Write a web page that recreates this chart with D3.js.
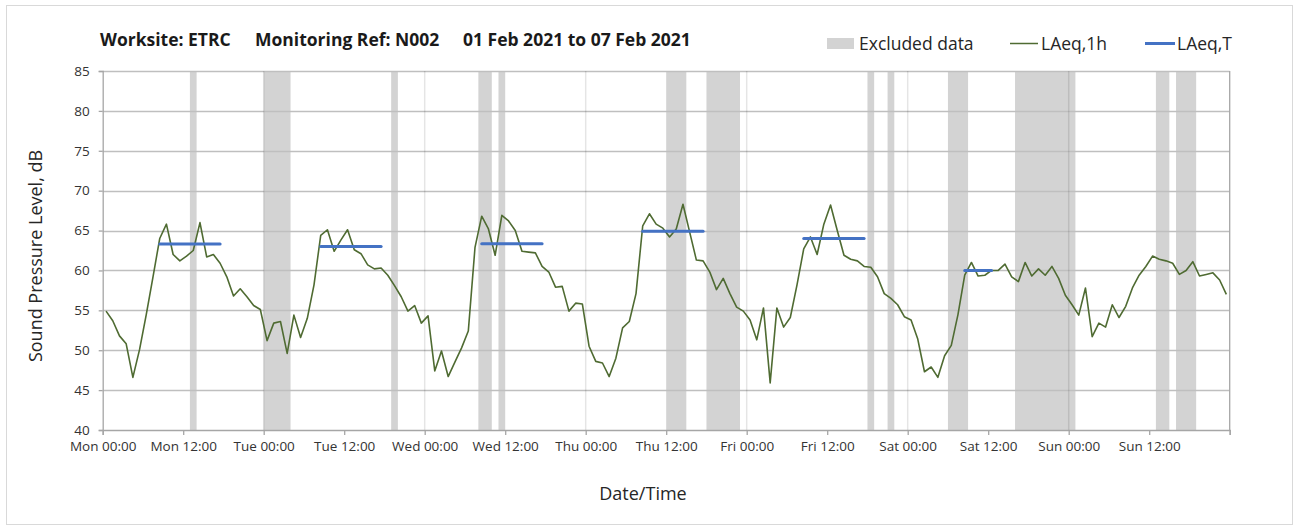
<!DOCTYPE html>
<html>
<head>
<meta charset="utf-8">
<script src="https://cdn.jsdelivr.net/npm/d3@7"></script>
<style>
  html, body { margin: 0; padding: 0; background: #fff; }
  svg { display: block; font-family: "Open Sans", "Noto Sans", sans-serif; }
</style>
</head>
<body>
<svg id="chart" width="1301" height="531"></svg>
<script>
// ---- Data ----
// Hourly LAeq,1h values, hour 0 = Mon 00:00 (plotted at mid-hour)
const laeq1h = [
  54.9, 53.7, 51.8, 50.8, 46.6, 50.1, 54.5, 59.2, 64.0, 65.8,
  62.0, 61.2, 61.8, 62.5, 66.0, 61.7, 62.0, 60.9, 59.2, 56.8,
  57.7, 56.7, 55.6, 55.1, 51.2, 53.4, 53.6, 49.6, 54.4, 51.6,
  54.0, 58.2, 64.4, 65.1, 62.4, 63.8, 65.1, 62.6, 62.1, 60.7,
  60.2, 60.3, 59.4, 58.1, 56.7, 54.9, 55.6, 53.4, 54.3, 47.4,
  49.9, 46.7, 48.5, 50.3, 52.4, 62.9, 66.8, 65.2, 61.9, 66.9,
  66.2, 65.0, 62.4, 62.3, 62.2, 60.5, 59.8, 57.9, 58.0, 54.9,
  55.9, 55.8, 50.5, 48.6, 48.4, 46.7, 49.0, 52.8, 53.6, 57.1,
  65.6, 67.1, 65.8, 65.3, 64.2, 65.2, 68.3, 64.8, 61.3, 61.2,
  59.8, 57.6, 59.0, 57.1, 55.4, 54.9, 53.8, 51.3, 55.3, 45.9,
  55.3, 52.9, 54.1, 58.2, 62.7, 64.2, 62.0, 65.8, 68.2, 65.0,
  61.9, 61.4, 61.2, 60.5, 60.4, 59.2, 57.1, 56.5, 55.7, 54.2,
  53.8, 51.4, 47.3, 47.9, 46.6, 49.3, 50.6, 54.5, 59.4, 61.0,
  59.3, 59.4, 60.0, 60.0, 60.8, 59.2, 58.6, 61.0, 59.3, 60.2,
  59.4, 60.5, 59.0, 56.9, 55.7, 54.4, 57.8, 51.7, 53.4, 52.9,
  55.7, 54.1, 55.5, 57.8, 59.4, 60.5, 61.8, 61.4, 61.2, 60.9,
  59.5, 60.0, 61.1, 59.3, 59.5, 59.7, 58.8, 57.0
];

// LAeq,T periods (first and last hour index, value)
const laeqTStart = [8, 32, 56, 80, 104, 128];
const laeqTEnd   = [17, 41, 65, 89, 113, 132];
const laeqTValue = [63.3, 63.0, 63.35, 64.9, 64.0, 60.0];

// Excluded data periods (hour from, hour to)
const excludedStart = [13, 24, 43, 56, 59, 84, 90, 114, 117, 126, 136, 157, 160];
const excludedEnd   = [14, 28, 44, 58, 60, 87, 95, 115, 118, 129, 145, 159, 163];

// X tick labels every 12 hours
const xTickLabels = ["Mon 00:00", "Mon 12:00", "Tue 00:00", "Tue 12:00", "Wed 00:00",
  "Wed 12:00", "Thu 00:00", "Thu 12:00", "Fri 00:00", "Fri 12:00", "Sat 00:00",
  "Sat 12:00", "Sun 00:00", "Sun 12:00"];
const yTicks = [40, 45, 50, 55, 60, 65, 70, 75, 80, 85];

// ---- Layout ----
const svg = d3.select("#chart");
const W = 1301, H = 531;
const pLeft = 102.7, pRight = 1229.7, pTop = 71, pBottom = 430;

svg.append("rect").attr("x", 0).attr("y", 0).attr("width", W).attr("height", H).attr("fill", "#fff");
svg.append("rect").attr("x", 6.5).attr("y", 5.5).attr("width", 1286).attr("height", 519)
  .attr("fill", "none").attr("stroke", "#d9d9d9").attr("stroke-width", 1);

const x = d3.scaleLinear().domain([0, 168]).range([pLeft, pRight]);
const y = d3.scaleLinear().domain([40, 85]).range([pBottom, pTop]);

// Excluded bands
svg.append("g").selectAll("rect")
  .data(excludedStart.map((s, i) => ({ s, e: excludedEnd[i] })))
  .join("rect")
  .attr("x", d => x(d.s)).attr("width", d => x(d.e) - x(d.s))
  .attr("y", pTop).attr("height", pBottom - pTop)
  .attr("fill", "#d3d3d3");

// Horizontal gridlines
svg.append("g").selectAll("line").data(yTicks.filter(v => v > 40))
  .join("line")
  .attr("x1", pLeft).attr("x2", pRight)
  .attr("y1", d => Math.round(y(d)) + 0.5).attr("y2", d => Math.round(y(d)) + 0.5)
  .attr("stroke", "#bfbfbf").attr("stroke-width", 1.3);

// Vertical day gridlines
svg.append("g").selectAll("line").data(d3.range(24, 168, 24))
  .join("line")
  .attr("x1", d => x(d)).attr("x2", d => x(d))
  .attr("y1", pTop).attr("y2", pBottom)
  .attr("stroke", "#000").attr("stroke-opacity", 0.1).attr("stroke-width", 1.5);

// Right border
svg.append("line").attr("x1", pRight).attr("x2", pRight).attr("y1", pTop).attr("y2", pBottom)
  .attr("stroke", "#a6a6a6").attr("stroke-width", 1.3);

// Axes
const xAxis = d3.axisBottom(x)
  .tickValues(d3.range(0, 169, 12))
  .tickSize(5).tickPadding(6)
  .tickFormat((d, i) => xTickLabels[i] || "");
const gx = svg.append("g").attr("transform", `translate(0,${pBottom})`).call(xAxis);
gx.select(".domain").attr("stroke", "#a6a6a6").attr("stroke-width", 1.3);
gx.selectAll(".tick line").attr("stroke", "#a6a6a6").attr("stroke-width", 1.3);
gx.selectAll(".tick text").attr("fill", "#333").attr("font-size", 13.5)
  .attr("font-family", "'Open Sans', sans-serif");

const yAxis = d3.axisLeft(y).tickValues(yTicks).tickSize(4).tickPadding(9).tickFormat(d3.format("d"));
const gy = svg.append("g").attr("transform", `translate(${pLeft},0)`).call(yAxis);
gy.select(".domain").attr("stroke", "#a6a6a6").attr("stroke-width", 1.3);
gy.selectAll(".tick line").attr("stroke", "#a6a6a6").attr("stroke-width", 1.3);
gy.selectAll(".tick text").attr("fill", "#333").attr("font-size", 13.5)
  .attr("font-family", "'Open Sans', sans-serif");

// LAeq,1h line
const line = d3.line().x((d, i) => x(i + 0.5)).y(d => y(d));
svg.append("path").datum(laeq1h).attr("d", line)
  .attr("fill", "none").attr("stroke", "#4f6b32").attr("stroke-width", 1.6)
  .attr("stroke-linejoin", "round");

// LAeq,T segments
svg.append("g").selectAll("line")
  .data(laeqTStart.map((s, i) => ({ s, e: laeqTEnd[i], v: laeqTValue[i] })))
  .join("line")
  .attr("x1", d => x(d.s + 0.5)).attr("x2", d => x(d.e + 0.5))
  .attr("y1", d => y(d.v)).attr("y2", d => y(d.v))
  .attr("stroke", "#4472c4").attr("stroke-width", 3).attr("stroke-linecap", "round");

// Title
const title = svg.append("text").attr("y", 45.5).attr("font-weight", "bold")
  .attr("font-size", 17.5).attr("fill", "#1a1a1a");
title.append("tspan").attr("x", 100).text("Worksite: ETRC");
title.append("tspan").attr("x", 255).text("Monitoring Ref: N002");
title.append("tspan").attr("x", 463).text("01 Feb 2021 to 07 Feb 2021");

// Legend
const lg = svg.append("g").attr("font-size", 17.5).attr("fill", "#262626");
lg.append("rect").attr("x", 827).attr("y", 38).attr("width", 27).attr("height", 11).attr("fill", "#d3d3d3");
lg.append("text").attr("x", 859).attr("y", 50).text("Excluded data");
lg.append("line").attr("x1", 1010).attr("x2", 1038).attr("y1", 43.5).attr("y2", 43.5)
  .attr("stroke", "#4f6b32").attr("stroke-width", 1.5);
lg.append("text").attr("x", 1041).attr("y", 50).text("LAeq,1h");
lg.append("line").attr("x1", 1145).attr("x2", 1175).attr("y1", 43.5).attr("y2", 43.5)
  .attr("stroke", "#4472c4").attr("stroke-width", 3);
lg.append("text").attr("x", 1177).attr("y", 50).text("LAeq,T");

// Axis titles
svg.append("text").attr("x", 643).attr("y", 500).attr("text-anchor", "middle")
  .attr("font-size", 18).attr("fill", "#262626").text("Date/Time");
svg.append("text").attr("transform", "translate(42,256) rotate(-90)").attr("text-anchor", "middle")
  .attr("font-size", 18).attr("fill", "#262626").text("Sound Pressure Level, dB");
</script>
</body>
</html>
